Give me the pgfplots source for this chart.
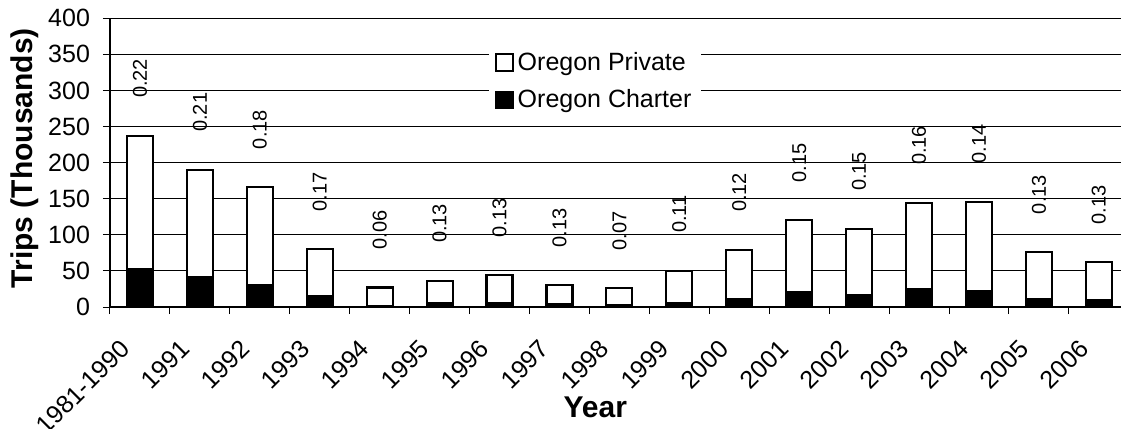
\documentclass[border=0pt]{standalone}
\usepackage{fontspec}
\setmainfont{Liberation Sans}
\usepackage{pgfplots}
\pgfplotsset{compat=1.18}
\usepackage{pgfplotstable}

\pgfplotstableread{
x charter private label
0 52 185 0.22
1 41 149 0.21
2 31 135 0.18
3 15 65 0.17
4 1 26 0.06
5 5 31 0.13
6 6 38 0.13
7 4 26 0.13
8 2 24 0.07
9 5 45 0.11
10 11 68 0.12
11 20 100 0.15
12 17 91 0.15
13 25 119 0.16
14 22 124 0.14
15 11 65 0.13
16 9 53 0.13
}\data

\begin{document}
\begin{tikzpicture}
\useasboundingbox (-55pt,-61pt) rectangle (505.5pt,153.5pt);
\begin{axis}[
  at={(0,0)}, anchor=south west, scale only axis,
  width=505.5pt, height=144.35pt,
  ybar, bar shift=0pt, bar width=13pt,
  xmin=-0.5, xmax=16.37, ymin=0, ymax=400,
  ytick={0,50,...,400},
  xtick={0,...,16},
  xticklabels={1981-1990,1991,1992,1993,1994,1995,1996,1997,1998,1999,2000,2001,2002,2003,2004,2005,2006},
  minor xtick={-0.5,0.5,...,16.5},
  major x tick style={draw=none},
  tick align=outside,
  major tick length=3.5pt, minor tick length=3.5pt,
  tick style={black, line width=0.5pt},
  ymajorgrids, major grid style={black, line width=0.5pt},
  axis x line*=bottom, axis y line*=left,
  axis line style={black, line width=1pt},
  /pgf/number format/assume math mode=true,
  ticklabel style={font=\fontsize{12.5}{15}\selectfont},
  yticklabel style={xshift=-3pt},
  xticklabel style={rotate=45, anchor=north east, inner sep=1pt, xshift=-15pt},
  xlabel={\textbf{Year}},
  ylabel={\textbf{Trips (Thousands)}},
  label style={font=\fontsize{15}{18}\selectfont},
  xlabel style={at={(axis description cs:0.48,-0.346)}, anchor=center},
  ylabel style={at={(axis description cs:-0.084,0.516)}, anchor=center, rotate=0},
  legend style={at={(0.48,0.782)}, anchor=center, draw=none, fill=white,
    font=\fontsize{12.5}{15}\selectfont, row sep=4pt, inner xsep=3pt, inner ysep=6pt},
  legend cell align=left,
  legend image code/.code={\draw[#1,line width=0.8pt] (0pt,-4.25pt) rectangle (8.5pt,4.25pt);},
]
\addplot[fill=white, draw=black, line width=1.1pt,
  nodes near coords, point meta=explicit symbolic,
  every node near coord/.style={yshift=18pt, rotate=90, anchor=west, inner sep=0.5pt,
    font=\fontsize{10}{12}\selectfont, black}]
  table[x=x, y expr=\thisrow{charter}+\thisrow{private}, meta=label] {\data};
\addlegendentry{Oregon Private}
\addplot[fill=black, draw=black, line width=1.1pt] table[x=x, y=charter] {\data};
\addlegendentry{Oregon Charter}
\draw[black, line width=1pt] (rel axis cs:0,1) -- (rel axis cs:1,1);
\end{axis}
\end{tikzpicture}
\end{document}
